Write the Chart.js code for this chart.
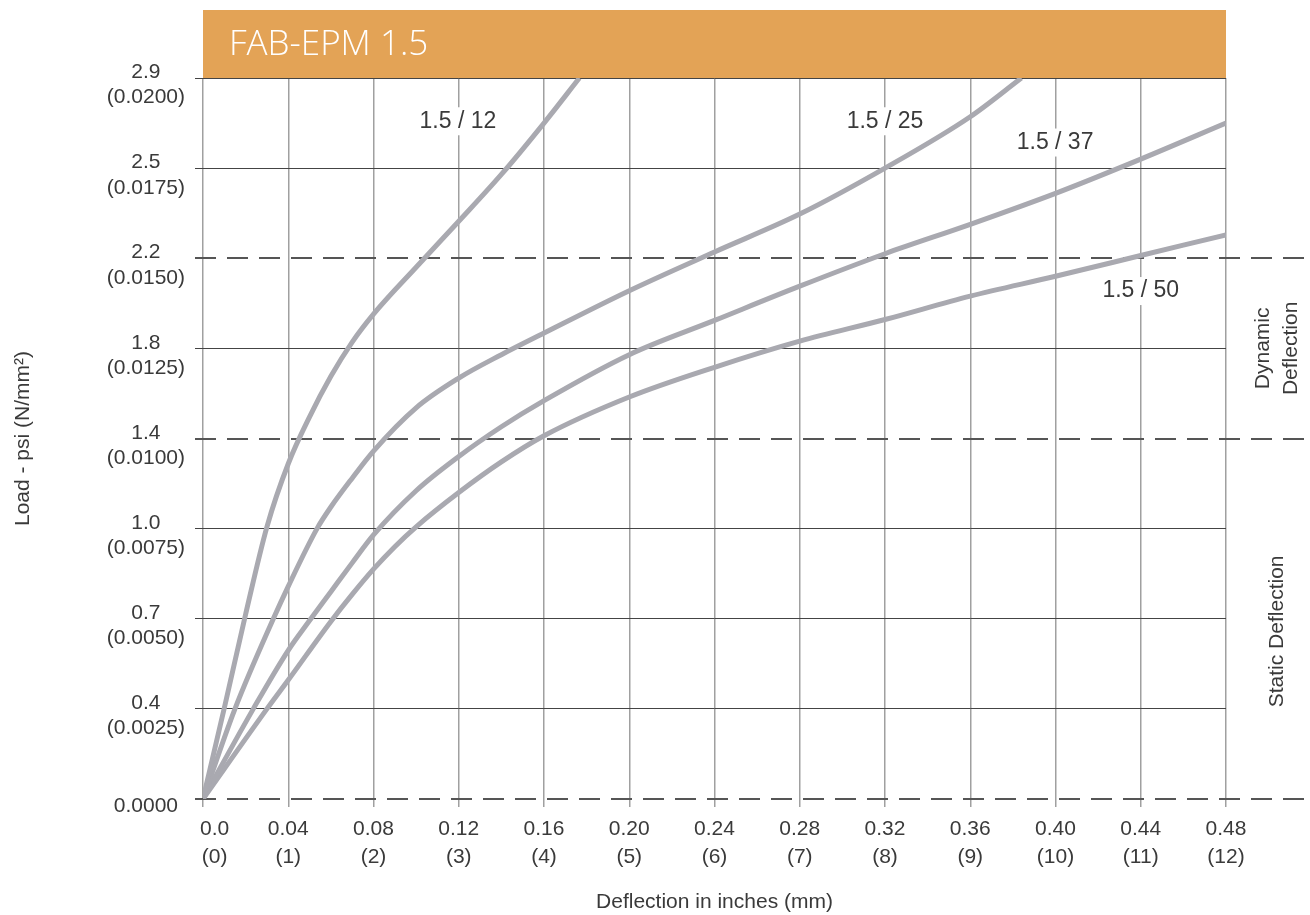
<!DOCTYPE html>
<html>
<head>
<meta charset="utf-8">
<title>FAB-EPM 1.5</title>
<script src="https://cdn.jsdelivr.net/npm/chart.js@4.4.1/dist/chart.umd.min.js"></script>
<style>
  html, body { margin: 0; padding: 0; background: #fff; }
  #wrap { width: 1310px; height: 915px; }
</style>
</head>
<body>
<div id="wrap"><canvas id="chart" width="1310" height="915"></canvas></div>
<script>
// deflection in inches / load in N/mm2
const defl12 = [0, 0.01, 0.02, 0.03, 0.04, 0.05, 0.06, 0.07, 0.08, 0.10, 0.12, 0.14, 0.16, 0.1766];
const load12 = [0, 0.002525, 0.005125, 0.00755, 0.0093, 0.0106, 0.011725, 0.012675, 0.01345, 0.01475, 0.016025, 0.017325, 0.01875, 0.02];

const defl25 = [0, 0.015, 0.033, 0.04, 0.0535, 0.06, 0.07, 0.08, 0.10, 0.12, 0.14, 0.16, 0.20, 0.24, 0.28, 0.32, 0.36, 0.384];
const load25 = [0, 0.0025, 0.005, 0.0059, 0.0075, 0.0081, 0.0089, 0.00965, 0.01085, 0.011675, 0.012325, 0.012925, 0.0141, 0.015175, 0.016225, 0.0175, 0.018925, 0.02];

const defl37 = [0, 0.0236, 0.04, 0.05, 0.06, 0.07, 0.08, 0.10, 0.12, 0.14, 0.16, 0.20, 0.24, 0.28, 0.32, 0.36, 0.40, 0.44, 0.48];
const load37 = [0, 0.0025, 0.004125, 0.00495, 0.00575, 0.00655, 0.007325, 0.00855, 0.0095, 0.010325, 0.01105, 0.012325, 0.013275, 0.014225, 0.015125, 0.01594, 0.0168, 0.01775, 0.01875];

const defl50 = [0, 0.03, 0.04, 0.06, 0.07, 0.08, 0.09, 0.10, 0.12, 0.14, 0.16, 0.20, 0.24, 0.28, 0.32, 0.36, 0.40, 0.44, 0.48];
const load50 = [0, 0.0025, 0.0033, 0.004925, 0.005675, 0.006375, 0.007, 0.00755, 0.0085, 0.00935, 0.010075, 0.01115, 0.011975, 0.0127, 0.0133, 0.01395, 0.0145, 0.015075, 0.01565];

const curveNames = ['1.5 / 12', '1.5 / 25', '1.5 / 37', '1.5 / 50'];
const curveLabelX = [0.1196, 0.320, 0.3998, 0.440];
const curveLabelY = [0.0188, 0.0188, 0.01821, 0.01409];

const psiLabels = ['', '0.4', '0.7', '1.0', '1.4', '1.8', '2.2', '2.5', '2.9'];
const inchLabels = ['\u2007\u20070.0', '0.04', '0.08', '0.12', '0.16', '0.20', '0.24', '0.28', '0.32', '0.36', '0.40', '0.44', '0.48'];
const mmLabels = ['\u2007\u2007(0)', '(1)', '(2)', '(3)', '(4)', '(5)', '(6)', '(7)', '(8)', '(9)', '(10)', '(11)', '(12)'];

const dashedLevels = [0, 0.01, 0.015];
const zoneLabels = [['Dynamic', 'Deflection'], ['Static Deflection']];
const zoneLabelY = [0.0125, 0.00465];
const chartTitle = 'FAB-EPM 1.5';

const pts = (xs, ys) => xs.map((x, i) => ({ x: x, y: ys[i] }));
const isDashed = (v) => dashedLevels.some(d => Math.abs(d - v) < 1e-7);
const textCol = '#3a3a3a';
const font = 'Liberation Sans, Arial, sans-serif';

const decor = {
    id: 'decor',
    beforeDraw(chart) {
        const { ctx, chartArea } = chart;
        ctx.save();
        ctx.fillStyle = '#fff';
        ctx.fillRect(0, 0, chart.width, chart.height);
        ctx.fillStyle = '#E3A356';
        ctx.fillRect(chartArea.left, 10, chartArea.right - chartArea.left, chartArea.top - 10);
        ctx.fillStyle = '#fff';
        ctx.font = '300 35px "Open Sans"';
        ctx.textBaseline = 'alphabetic';
        ctx.textAlign = 'left';
        ctx.fillText(chartTitle, chartArea.left + 26, 55);
        ctx.restore();
    },
    beforeDatasetsDraw(chart) {
        const { ctx, chartArea, scales } = chart;
        ctx.save();
        // dashed zone limits, run out past the plot
        ctx.strokeStyle = '#555';
        ctx.lineWidth = 2;
        ctx.setLineDash([21, 11]);
        dashedLevels.forEach(v => {
            const y = Math.round(scales.y.getPixelForValue(v));
            ctx.beginPath();
            ctx.moveTo(chartArea.left - 8, y);
            ctx.lineTo(chart.width, y);
            ctx.stroke();
        });
        ctx.setLineDash([]);
        // curve names
        ctx.font = '23px ' + font;
        ctx.textAlign = 'center';
        ctx.textBaseline = 'middle';
        curveNames.forEach((name, i) => {
            const x = scales.x.getPixelForValue(curveLabelX[i]);
            const y = scales.y.getPixelForValue(curveLabelY[i]);
            const w = ctx.measureText(name).width + 8;
            ctx.fillStyle = '#fff';
            ctx.fillRect(x - w / 2, y - 14, w, 28);
            ctx.fillStyle = textCol;
            ctx.fillText(name, x, y);
        });
        ctx.restore();
    },
    afterDraw(chart) {
        const { ctx, chartArea, scales } = chart;
        ctx.save();
        ctx.font = '21px ' + font;
        ctx.fillStyle = textCol;
        ctx.textAlign = 'center';
        ctx.textBaseline = 'middle';
        zoneLabels.forEach((lines, i) => {
            const y = scales.y.getPixelForValue(zoneLabelY[i]);
            ctx.save();
            ctx.translate(chartArea.right + 51, y);
            ctx.rotate(-Math.PI / 2);
            lines.forEach((t, j) => {
                ctx.fillText(t, 0, (j - (lines.length - 1) / 2) * 28);
            });
            ctx.restore();
        });
        ctx.restore();
    }
};

const lineStyle = {
    borderColor: '#a9a9b0',
    borderWidth: 5,
    pointRadius: 0,
    fill: false,
    cubicInterpolationMode: 'monotone'
};

new Chart(document.getElementById('chart'), {
    type: 'line',
    data: {
        datasets: [
            Object.assign({ label: curveNames[0], data: pts(defl12, load12) }, lineStyle),
            Object.assign({ label: curveNames[1], data: pts(defl25, load25) }, lineStyle),
            Object.assign({ label: curveNames[2], data: pts(defl37, load37) }, lineStyle),
            Object.assign({ label: curveNames[3], data: pts(defl50, load50) }, lineStyle)
        ]
    },
    options: {
        responsive: false,
        animation: false,
        devicePixelRatio: 1,
        layout: { padding: { top: 78, right: 84, left: 0, bottom: 0 } },
        plugins: { legend: { display: false }, tooltip: { enabled: false }, title: { display: false } },
        scales: {
            x: {
                type: 'linear',
                min: 0,
                max: 0.48,
                afterFit: (s) => { s.height = 116; },
                border: { display: false },
                grid: { color: '#a0a0a0', lineWidth: 1.5, tickLength: 8, tickColor: '#a0a0a0' },
                ticks: {
                    stepSize: 0.04,
                    padding: 8,
                    color: textCol,
                    font: { family: font, size: 21, lineHeight: 1.33 },
                    maxRotation: 0,
                    autoSkip: false,
                    callback: (v, i) => [inchLabels[i], mmLabels[i]]
                },
                title: {
                    display: true,
                    text: 'Deflection in inches (mm)',
                    color: textCol,
                    font: { family: font, size: 21 },
                    padding: { top: 0, bottom: 0 }
                }
            },
            y: {
                type: 'linear',
                min: 0,
                max: 0.02,
                afterFit: (s) => { s.width = 203; },
                border: { display: false },
                grid: {
                    color: (c) => isDashed(c.tick.value) ? 'rgba(0,0,0,0)' : '#444',
                    tickColor: (c) => isDashed(c.tick.value) ? 'rgba(0,0,0,0)' : '#444',
                    lineWidth: 1,
                    tickLength: 8
                },
                ticks: {
                    stepSize: 0.0025,
                    padding: 10,
                    crossAlign: 'center',
                    labelOffset: 7,
                    color: textCol,
                    font: { family: font, size: 21, lineHeight: 1.2 },
                    callback: (v, i) => i === 0 ? '0.0000' : [psiLabels[i], '(' + v.toFixed(4) + ')']
                },
                title: {
                    display: true,
                    text: 'Load - psi (N/mm²)',
                    color: textCol,
                    font: { family: font, size: 21 },
                    padding: { top: 11, bottom: 0 }
                }
            }
        }
    },
    plugins: [decor]
});
</script>
</body>
</html>
